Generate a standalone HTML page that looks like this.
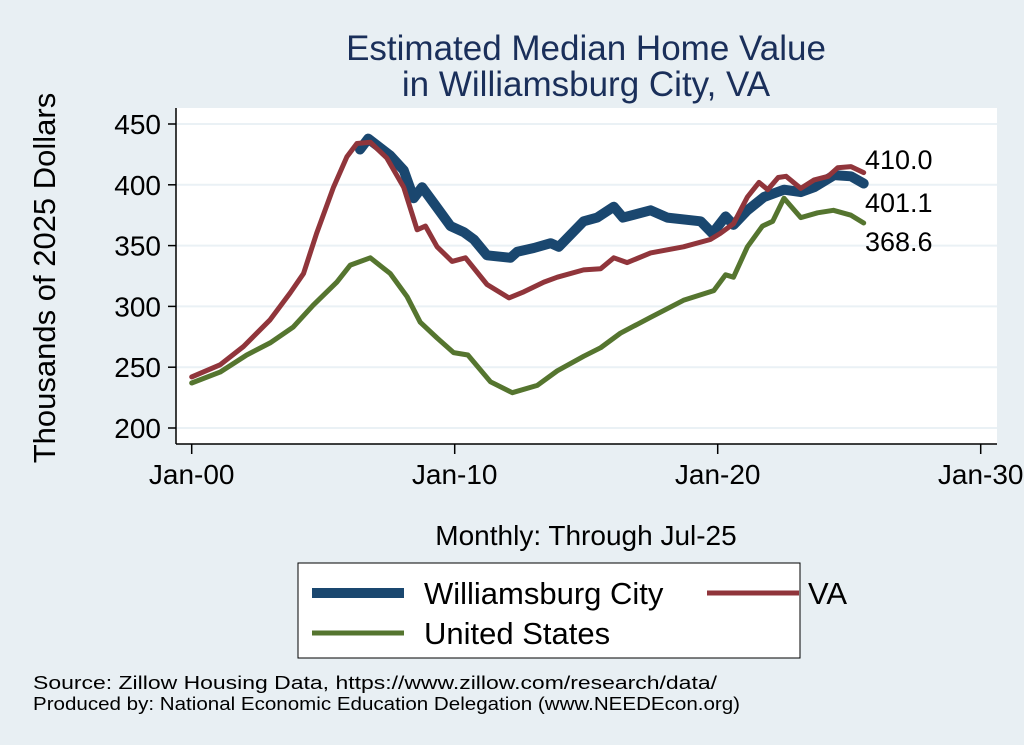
<!DOCTYPE html>
<html><head><meta charset="utf-8"><style>
html,body{margin:0;padding:0;background:#e8eff3;}
svg{display:block;font-family:"Liberation Sans",Arial,sans-serif;}
</style></head><body>
<svg id="chart" width="1024" height="745" viewBox="0 0 1024 745">
<rect x="0" y="0" width="1024" height="745" fill="#e8eff3"/>
<text x="586" y="60" text-anchor="middle" font-size="35" fill="#1a2f5a">Estimated Median Home Value</text>
<text x="586" y="96" text-anchor="middle" font-size="35" fill="#1a2f5a">in Williamsburg City, VA</text>
<rect x="176" y="108" width="821" height="336" fill="#ffffff"/>
<g id="grid"></g>
<g id="series"></g>
<line x1="176" y1="108" x2="176" y2="444" stroke="#000" stroke-width="1.5"/>
<line x1="176" y1="444" x2="997" y2="444" stroke="#000" stroke-width="1.5"/>
<g id="ticks"></g>
<text transform="translate(55,278) rotate(-90)" text-anchor="middle" font-size="31" fill="#000">Thousands of 2025 Dollars</text>
<text x="586" y="545" text-anchor="middle" font-size="28" fill="#000">Monthly: Through Jul-25</text>
<g>
<rect x="298" y="563" width="502" height="95" fill="#fff" stroke="#000" stroke-width="1"/>
<line x1="312" y1="593" x2="404" y2="593" stroke="#1a476f" stroke-width="10"/>
<text x="424" y="604" font-size="31">Williamsburg City</text>
<line x1="710" y1="593" x2="802" y2="593" stroke="#90353b" stroke-width="5" transform="translate(-3,0)"/>
<text x="808" y="604" font-size="31">VA</text>
<line x1="312" y1="633" x2="404" y2="633" stroke="#55752f" stroke-width="5"/>
<text x="424" y="644" font-size="31">United States</text>
</g>
<text x="33" y="689" font-size="18" textLength="684" lengthAdjust="spacingAndGlyphs">Source: Zillow Housing Data, https://www.zillow.com/research/data/</text>
<text x="33" y="710" font-size="18" textLength="707" lengthAdjust="spacingAndGlyphs">Produced by: National Economic Education Delegation (www.NEEDEcon.org)</text>
</svg>
<script>
const yTicks=[200,250,300,350,400,450];
const xTickYears=[0,10,20,30];
const xTickLabels=["Jan-00","Jan-10","Jan-20","Jan-30"];
const usYears=[0,1.08,2.09,2.98,3.86,4.62,5.52,6.03,6.79,7.55,8.19,8.69,9.33,9.96,10.5,11.36,12.19,13.14,13.9,14.9,15.55,16.3,17.45,18.7,19.85,20.3,20.6,21.13,21.7,22.09,22.52,23.16,23.8,24.4,25.07,25.55];
const usValues=[237,246,260,270,283,301,320,334,340,327,308,287,274,262,260,238,229,235,247,259,266,278,291,305,313,326,324,349,366,370,389,373,377,379,375,368.6];
const vaYears=[0,1.08,1.97,2.98,3.74,4.25,4.75,5.39,5.9,6.28,6.79,7.42,8.06,8.57,8.89,9.33,9.9,10.41,11.23,12.06,12.63,13.39,13.9,14.9,15.55,16.05,16.56,17.45,18.7,19.72,20.1,20.6,21.13,21.57,21.9,22.3,22.6,23.16,23.67,24.2,24.56,25.07,25.55];
const vaValues=[242,252,267,289,311,327,360,398,423,434,435,422,398,363,366,349,337,340,318,307,312,320,324,330,331,340,336,344,349,355,360,368,390,402,396,406,407,397,404,407,414,415,410];
const wbYears=[6.4,6.71,7.55,8.06,8.44,8.76,9.2,9.84,10.35,10.73,11.23,12.12,12.38,13.01,13.65,13.96,14.9,15.42,16.05,16.4,17.45,18.08,19.35,19.8,20.3,20.6,21.13,21.76,22.52,23.16,23.67,24.43,25.07,25.55];
const wbValues=[429,438,424,412,389,398,385,366,361,355,342,340,345,348,352,349,370,373,382,373,379,373,370,360,374,367,379,390,396,394,398,408,407,401.1];
const endLabels=["410.0","401.1","368.6"];

const NS="http://www.w3.org/2000/svg";
function xs(yr){return 191.7+yr*26.3;}
function ys(v){return 124+(450-v)*1.216;}
function mk(tag,attrs,parent){const e=document.createElementNS(NS,tag);for(const k in attrs)e.setAttribute(k,attrs[k]);parent.appendChild(e);return e;}
const grid=document.getElementById('grid'),ticks=document.getElementById('ticks'),series=document.getElementById('series');
yTicks.forEach(v=>{
  const g=mk('line',{x1:176,x2:997,y1:ys(v),y2:ys(v),stroke:'#eaf1f5','stroke-width':2},grid);
  
  
  const t=mk('line',{x1:168,x2:176,y1:ys(v),y2:ys(v),stroke:'#000','stroke-width':1.5},ticks);
  
  
  const l=mk('text',{x:161,y:ys(v)+10,'text-anchor':'end','font-size':28},ticks);
  l.textContent=v;
  
  
});
xTickYears.forEach((yr,i)=>{
  const t=mk('line',{x1:xs(yr),x2:xs(yr),y1:444,y2:454,stroke:'#000','stroke-width':1.5},ticks);
  
  
  const l=mk('text',{x:xs(yr),y:484,'text-anchor':'middle','font-size':28},ticks);
  l.textContent=xTickLabels[i];
  
  
});
function line(yrs,vals,color,w,name){
  const d=yrs.map((y,i)=>(i?'L':'M')+xs(y).toFixed(1)+','+ys(vals[i]).toFixed(1)).join(' ');
  const p=mk('path',{d:d,fill:'none',stroke:color,'stroke-width':w,'stroke-linejoin':'round','stroke-linecap':'round'},series);
  
  
}
line(usYears,usValues,'#55752f',5,'line-united-states');
line(wbYears,wbValues,'#1a476f',10,'line-williamsburg-city');
line(vaYears,vaValues,'#90353b',5,'line-va');
const labelY=[169,212,251];
endLabels.forEach((s,i)=>{
  const l=mk('text',{x:865,y:labelY[i],'font-size':27},series);
  l.textContent=s;
  
  
});
</script>
</body></html>
